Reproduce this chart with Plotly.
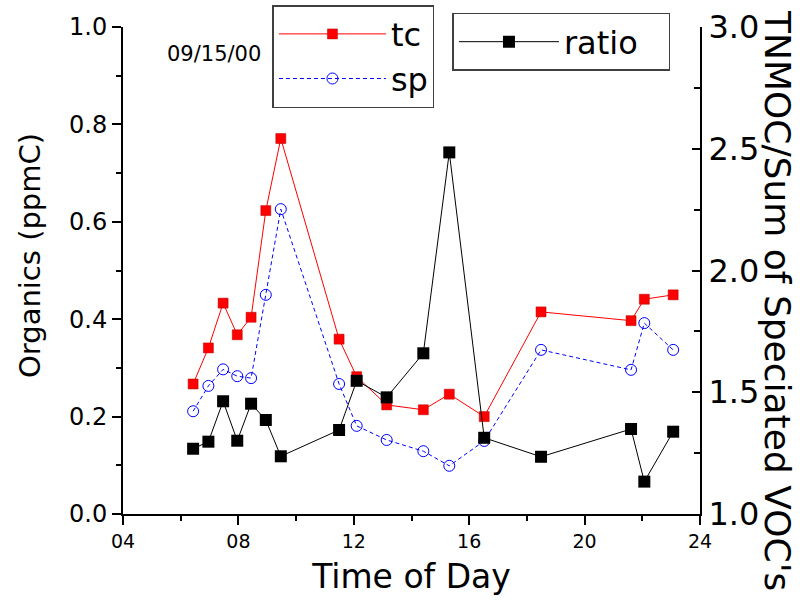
import plotly.graph_objects as go

# ---- data ----
hours = [6.43, 6.96, 7.47, 7.96, 8.44, 8.95, 9.47, 11.49, 12.10, 13.14, 14.41,
         15.31, 16.52, 18.49, 21.61, 22.07, 23.07]
tc = [0.267, 0.341, 0.433, 0.368, 0.404, 0.623, 0.771, 0.359, 0.282, 0.224, 0.214,
      0.246, 0.200, 0.415, 0.397, 0.441, 0.450]
sp = [0.211, 0.263, 0.297, 0.283, 0.279, 0.450, 0.626, 0.267, 0.181, 0.152, 0.129,
      0.099, 0.150, 0.337, 0.296, 0.392, 0.337]
ratio = [1.268, 1.297, 1.463, 1.301, 1.453, 1.386, 1.237, 1.345, 1.547, 1.479, 1.660,
         2.485, 1.313, 1.235, 1.349, 1.133, 1.338]
x_tickvals = [4, 8, 12, 16, 20, 24]
x_ticktext = ["04", "08", "12", "16", "20", "24"]
date_label = "09/15/00"

FONT = "DejaVu Sans"

fig = go.Figure()
fig.add_trace(go.Scatter(
    x=hours, y=tc, name="tc", mode="lines+markers",
    line=dict(color="#ff0000", width=1),
    marker=dict(symbol="square", size=10, color="#ff0000",
                line=dict(color="#b00000", width=0.5)),
    legend="legend"))
fig.add_trace(go.Scatter(
    x=hours, y=sp, name="sp", mode="lines+markers",
    line=dict(color="#0000ff", width=1, dash="4px,3px"),
    marker=dict(symbol="circle-open", size=11, color="#0000ff",
                line=dict(color="#0000ff", width=1)),
    legend="legend"))
fig.add_trace(go.Scatter(
    x=hours, y=ratio, name="ratio", mode="lines+markers", yaxis="y2",
    line=dict(color="#000000", width=1),
    marker=dict(symbol="square", size=12, color="#000000"),
    legend="legend2"))

axis_common = dict(showgrid=False, zeroline=False, showline=True,
                   linecolor="black", linewidth=2, tickcolor="black",
                   tickwidth=1.5)

fig.update_layout(
    width=800, height=611,
    margin=dict(l=123, r=100, t=27, b=97, autoexpand=False),
    paper_bgcolor="white", plot_bgcolor="white",
    font=dict(family=FONT, color="black"),
    xaxis=dict(range=[4, 24], tickvals=x_tickvals, ticktext=x_ticktext,
               ticks="outside", ticklen=9,
               minor=dict(dtick=2, tick0=4, ticklen=5, ticks="outside",
                          tickcolor="black", tickwidth=1.5),
               tickfont=dict(size=19),
               title=dict(text="Time of Day", font=dict(size=33), standoff=14),
               **axis_common),
    yaxis=dict(range=[0, 1], dtick=0.2, tickformat=".1f",
               ticks="outside", ticklen=9,
               minor=dict(dtick=0.1, ticklen=5, ticks="outside",
                          tickcolor="black", tickwidth=1.5),
               tickfont=dict(size=24), **axis_common),
    yaxis2=dict(range=[1, 3], dtick=0.5, tickformat=".1f", overlaying="y",
                side="right", ticks="inside", ticklen=8,
                minor=dict(dtick=0.25, ticklen=6, ticks="inside",
                           tickcolor="black", tickwidth=1.5),
                tickfont=dict(size=32), **axis_common),
    legend=dict(x=0.259, y=1.045, xanchor="left", yanchor="top",
                bgcolor="white", bordercolor="#404040", borderwidth=1.5,
                font=dict(size=32), itemwidth=107, tracegroupgap=0),
    legend2=dict(x=0.571, y=1.029, xanchor="left", yanchor="top",
                 orientation="h", entrywidth=100,
                 bgcolor="white", bordercolor="#404040", borderwidth=1.5,
                 font=dict(size=32), itemwidth=100),
    annotations=[
        dict(text="Organics (ppmC)", xref="paper", yref="paper",
             x=(30 - 123) / 577, y=(514 - 256) / 487, showarrow=False,
             textangle=-90, font=dict(size=29), xanchor="center",
             yanchor="middle"),
        dict(text="TNMOC/Sum of Speciated VOC's", xref="paper", yref="paper",
             x=(778 - 123) / 577, y=(514 - 300) / 487, showarrow=False,
             textangle=90, font=dict(size=36), xanchor="center",
             yanchor="middle"),
        dict(text=date_label, xref="paper", yref="paper",
             x=(214 - 123) / 577, y=(514 - 54) / 487, showarrow=False,
             font=dict(size=21), xanchor="center", yanchor="middle"),
    ],
)

fig.write_html("out.html")
